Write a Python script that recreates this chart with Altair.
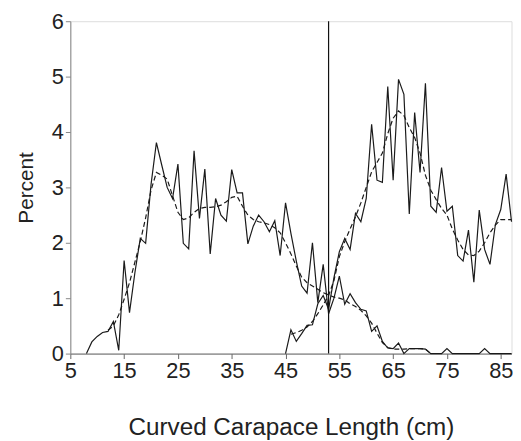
import altair as alt
import pandas as pd

# ---- data ----
x_juv = list(range(8, 88))
juv_pct = [0.0, 0.21, 0.31, 0.38, 0.40, 0.58, 0.06, 1.68, 0.74, 1.46,
           2.08, 1.99, 3.05, 3.81, 3.40, 3.00, 2.80, 3.42, 1.99, 1.89,
           3.66, 2.44, 3.33, 1.80, 2.80, 2.50, 2.39, 3.32, 2.90, 2.90,
           1.98, 2.30, 2.50, 2.38, 2.20, 2.40, 1.77, 2.72, 2.17, 1.67,
           1.22, 1.09, 2.00, 0.92, 1.61, 0.72, 1.00, 1.40, 0.89, 1.08,
           0.92, 0.80, 0.77, 0.40, 0.50, 0.22, 0.10, 0.09, 0.19, 0.00,
           0.09, 0.09, 0.09, 0.08, 0.00, 0.00, 0.00, 0.09, 0.00, 0.00,
           0.00, 0.00, 0.00, 0.00, 0.09, 0.00, 0.00, 0.00, 0.00, 0.00]

x_adult = list(range(45, 88))
adult_pct = [0.00, 0.43, 0.22, 0.36, 0.51, 0.52, 0.90, 1.05, 0.80, 1.37,
             1.84, 2.08, 1.88, 2.53, 2.38, 2.80, 4.14, 3.13, 3.09, 4.82,
             3.13, 4.95, 4.68, 2.52, 4.35, 3.27, 4.88, 2.66, 2.55, 3.36,
             2.57, 2.66, 1.77, 1.67, 2.23, 1.29, 2.59, 1.88, 1.61, 2.33,
             2.60, 3.24, 2.38]

x_juv_fit = list(range(12, 73))
juv_fit = [0.42, 0.50, 0.70, 0.98, 1.28, 1.65, 2.02, 2.45, 2.95, 3.27,
           3.22, 3.15, 2.85, 2.55, 2.42, 2.45, 2.55, 2.62, 2.64, 2.64,
           2.65, 2.68, 2.74, 2.82, 2.84, 2.66, 2.50, 2.42, 2.38, 2.36,
           2.33, 2.27, 2.18, 2.00, 1.80, 1.58, 1.38, 1.28, 1.22, 1.16,
           1.10, 1.06, 1.02, 1.00, 0.97, 0.90, 0.85, 0.78, 0.68, 0.55,
           0.37, 0.20, 0.11, 0.08, 0.08, 0.08, 0.09, 0.09, 0.09, 0.08,
           0.00]

x_adult_fit = list(range(46, 88))
adult_fit = [0.35, 0.38, 0.42, 0.48, 0.58, 0.72, 0.88, 1.05, 1.32, 1.75,
             2.02, 2.25, 2.47, 2.72, 3.00, 3.28, 3.45, 3.62, 3.97, 4.25,
             4.38, 4.30, 4.08, 3.90, 3.62, 3.22, 2.95, 2.78, 2.62, 2.50,
             2.25, 2.05, 1.88, 1.78, 1.77, 1.85, 2.00, 2.18, 2.32, 2.42,
             2.42, 2.42]

split_ccl = [53]

x_ticks = [5, 15, 25, 35, 45, 55, 65, 75, 85]
y_ticks = [0, 1, 2, 3, 4, 5, 6]

# ---- tables ----
raw = pd.concat([
    pd.DataFrame({"ccl": x_juv, "pct": juv_pct, "series": "juvenile"}),
    pd.DataFrame({"ccl": x_adult, "pct": adult_pct, "series": "adult"}),
])
fit = pd.concat([
    pd.DataFrame({"ccl": x_juv_fit, "pct": juv_fit, "series": "juvenile"}),
    pd.DataFrame({"ccl": x_adult_fit, "pct": adult_fit, "series": "adult"}),
])
split = pd.DataFrame({"ccl": split_ccl})

FONT = "Liberation Sans"

xscale = alt.Scale(domain=[5, 87], nice=False, zero=False)
yscale = alt.Scale(domain=[0, 6], nice=False)

xaxis = alt.Axis(values=x_ticks, format="d", title="Curved Carapace Length (cm)",
                 grid=False, tickSize=5, labelPadding=2, labelFontSize=22,
                 titleFontSize=24.5, titleFontWeight="normal", titlePadding=35,
                 labelFlush=False, labelColor="#222", titleColor="#222",
                 domainColor="#666", tickColor="#666")
yaxis = alt.Axis(values=y_ticks, format="d", title="Percent", grid=False,
                 tickSize=5, labelPadding=2, labelFontSize=22,
                 titleFontSize=21, titleFontWeight="normal", titlePadding=15,
                 labelColor="#222", titleColor="#222",
                 domainColor="#888", tickColor="#888")

raw_lines = alt.Chart(raw).mark_line(color="#1a1a1a", strokeWidth=1.2).encode(
    x=alt.X("ccl:Q", scale=xscale, axis=xaxis),
    y=alt.Y("pct:Q", scale=yscale, axis=yaxis),
    detail="series:N",
)

fit_lines = alt.Chart(fit).mark_line(color="#1a1a1a", strokeWidth=1.2,
                                     strokeDash=[5, 3]).encode(
    x="ccl:Q",
    y="pct:Q",
    detail="series:N",
)

rule = alt.Chart(split).mark_rule(color="#111", strokeWidth=1.2).encode(
    x="ccl:Q",
)

chart = alt.layer(raw_lines, fit_lines, rule).properties(
    width=446, height=336,
    autosize=alt.AutoSizeParams(type="none"),
    padding={"left": 63, "top": 11, "right": 1.5, "bottom": 86},
).configure_view(stroke=None).configure(font=FONT)

chart.save("out.html", embed_options={"renderer": "svg", "actions": False})
